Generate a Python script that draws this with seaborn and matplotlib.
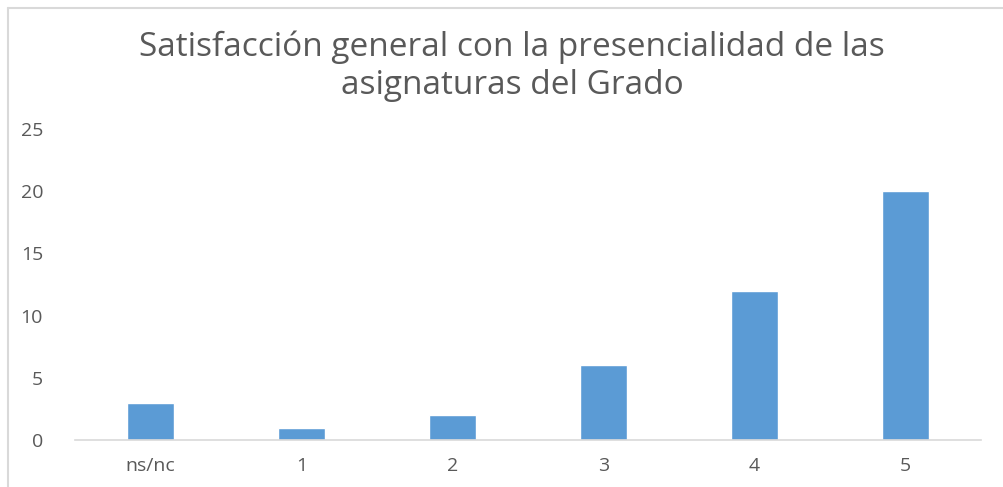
import matplotlib
matplotlib.use('Agg')
import matplotlib.pyplot as plt
import seaborn as sns
import pandas as pd
from matplotlib.lines import Line2D

categories = ['ns/nc', '1', '2', '3', '4', '5']
counts = [3, 1, 2, 6, 12, 20]
yticks = [0, 5, 10, 15, 20, 25]
title = 'Satisfacción general con la presencialidad de las\nasignaturas del Grado'

def main():
    sns.set_style('white')
    plt.rcParams['font.family'] = ['Open Sans', 'DejaVu Sans']
    df = pd.DataFrame({'cat': categories, 'n': counts})

    fig = plt.figure(figsize=(10.04, 4.87), dpi=100)
    ax = fig.add_axes([0.0747, 0.0965, 0.9025, 0.639])
    sns.barplot(data=df, x='cat', y='n', color='#5b9bd5', width=0.31,
                saturation=1, ax=ax)
    ax.set_ylim(0, 25)
    ax.set_xlim(-0.5, 5.5)
    ax.set_yticks(yticks)
    ax.set_xlabel('')
    ax.set_ylabel('')
    for s in ['top', 'right', 'left']:
        ax.spines[s].set_visible(False)
    ax.spines['bottom'].set_color('#d9d9d9')
    ax.spines['bottom'].set_linewidth(1.2)
    ax.tick_params(axis='both', length=0, labelsize=14, labelcolor='#595959')
    ax.tick_params(axis='y', pad=23)
    ax.tick_params(axis='x', pad=12)

    fig.text(0.51, 0.864, title, ha='center', va='center', fontsize=24,
             color='#595959', linespacing=1.2)

    # chart border (left and top visible)
    fig.add_artist(Line2D([0.008, 0.008], [0, 0.983], color='#d9d9d9', lw=1.5))
    fig.add_artist(Line2D([0.008, 1], [0.983, 0.983], color='#d9d9d9', lw=1.5))

    plt.savefig('out.png', dpi=100)

if __name__ == '__main__':
    main()
